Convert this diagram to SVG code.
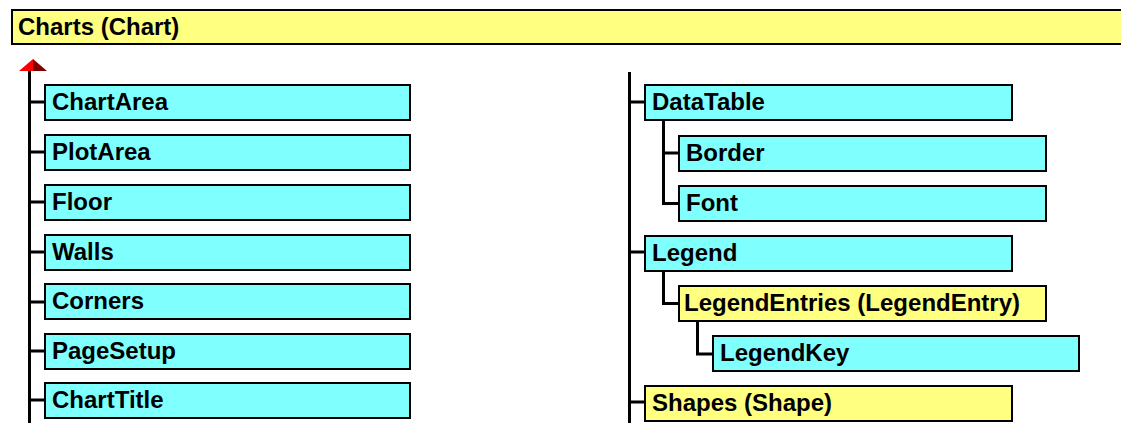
<svg xmlns="http://www.w3.org/2000/svg" width="1121" height="423" viewBox="0 0 1121 423">
<style>
.c rect{fill:#80ffff;stroke:#000;stroke-width:2}
.y rect{fill:#ffff80;stroke:#000;stroke-width:2}
text{font-family:"Liberation Sans",Arial,sans-serif;font-weight:bold;font-size:24px;fill:#000}
.ln{stroke:#000;stroke-width:3;fill:none}
</style>
<rect width="1121" height="423" fill="#fff"/>
<g id="connectors">
<polygon points="19,71 33,59 33,71" fill="#ff0000"/>
<polygon points="33,59 47,71 33,71" fill="#800000"/>
<path class="ln" d="M29.5,71V423 M29.5,102H45 M29.5,152H45 M29.5,202H45 M29.5,252H45 M29.5,302H45 M29.5,351H45 M29.5,400H45"/>
<path class="ln" d="M629.5,72V423 M629.5,102H645 M629.5,252H645 M629.5,402H645"/>
<path class="ln" d="M663.5,120V203.5H679 M663.5,153H679"/>
<path class="ln" d="M663.5,270V303.5H679"/>
<path class="ln" d="M697.5,321V354H713"/>
</g>
<g id="charts" class="y"><rect x="12" y="10" width="1120" height="34"/><text x="18" y="35">Charts (Chart)</text></g>
<g id="chartarea" class="c"><rect x="45" y="85" width="365" height="35"/><text x="52" y="110">ChartArea</text></g>
<g id="plotarea" class="c"><rect x="45" y="135" width="365" height="35"/><text x="52" y="160">PlotArea</text></g>
<g id="floor" class="c"><rect x="45" y="185" width="365" height="35"/><text x="52" y="210">Floor</text></g>
<g id="walls" class="c"><rect x="45" y="235" width="365" height="35"/><text x="52" y="260">Walls</text></g>
<g id="corners" class="c"><rect x="45" y="284" width="365" height="35"/><text x="52" y="309">Corners</text></g>
<g id="pagesetup" class="c"><rect x="45" y="334" width="365" height="35"/><text x="52" y="359">PageSetup</text></g>
<g id="charttitle" class="c"><rect x="45" y="383" width="365" height="35"/><text x="52" y="408">ChartTitle</text></g>
<g id="datatable" class="c"><rect x="645" y="85" width="367" height="35"/><text x="652" y="110">DataTable</text></g>
<g id="border" class="c"><rect x="679" y="136" width="367" height="35"/><text x="686" y="161">Border</text></g>
<g id="font" class="c"><rect x="679" y="186" width="367" height="35"/><text x="686" y="211">Font</text></g>
<g id="legend" class="c"><rect x="645" y="236" width="367" height="35"/><text x="652" y="261">Legend</text></g>
<g id="legendentries" class="y"><rect x="679" y="286" width="367" height="35"/><text x="684" y="311">LegendEntries (LegendEntry)</text></g>
<g id="legendkey" class="c"><rect x="713" y="336" width="366" height="35"/><text x="720" y="361">LegendKey</text></g>
<g id="shapes" class="y"><rect x="645" y="386" width="367" height="35"/><text x="652" y="411">Shapes (Shape)</text></g>
</svg>
